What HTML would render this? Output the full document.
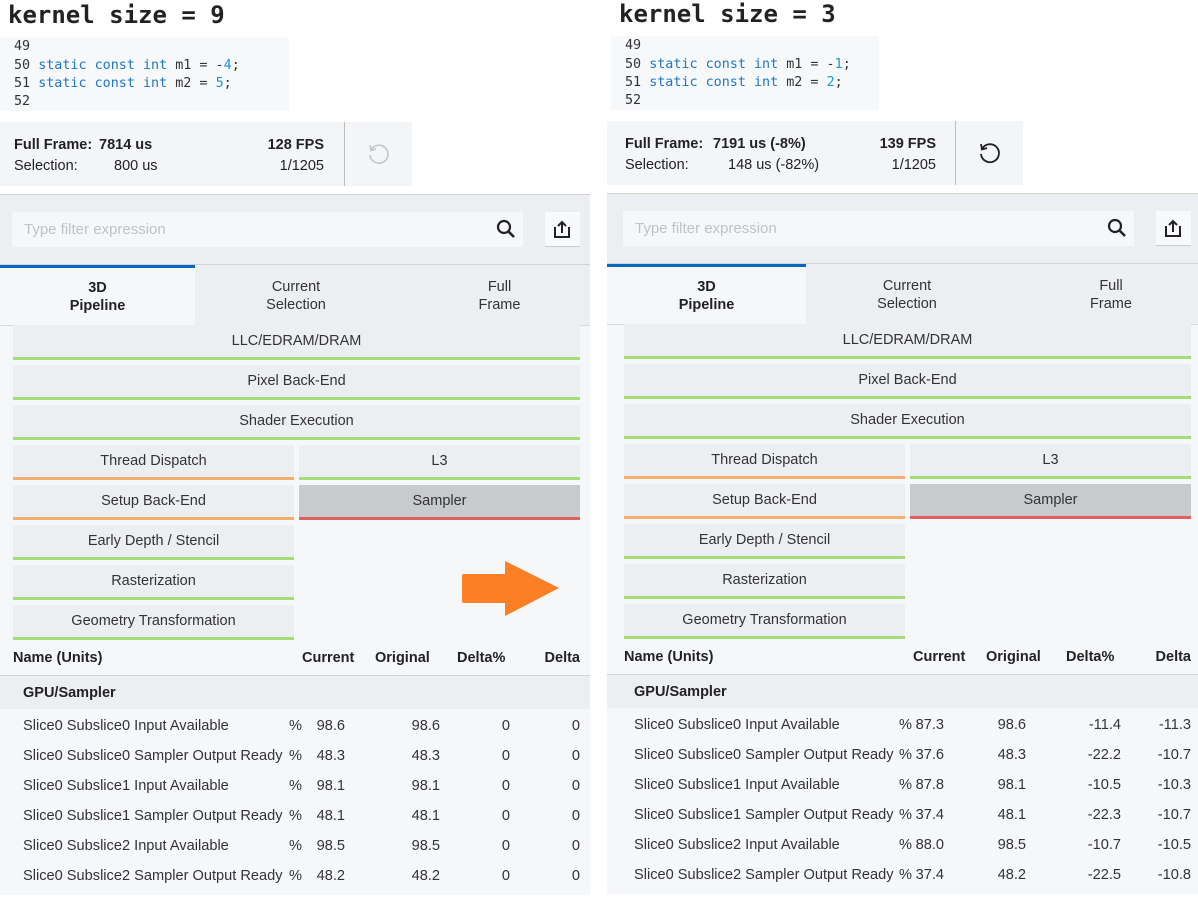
<!DOCTYPE html>
<html><head><meta charset="utf-8"><style>
*{margin:0;padding:0;box-sizing:border-box}
body{width:1198px;height:897px;background:#fff;position:relative;overflow:hidden;font-family:"Liberation Sans",sans-serif;color:#222}
.p{position:absolute;top:0;width:595px;height:897px}
.a{position:absolute;white-space:nowrap}
.title{left:8px;top:1px;font:bold 24px "DejaVu Sans Mono",monospace;color:#222}
.code{left:0;top:37px;width:289px;height:74px;background:#f6f8fa}
.cl{left:14px;font:13.4px "DejaVu Sans Mono",monospace;color:#333;line-height:18px}
.k{color:#1f77c4}.n{color:#1a9ad6}
.stats{left:0;top:122px;width:412px;height:64px;background:#f4f5f7}
.sep{left:344px;top:122px;width:1px;height:64px;background:#bbb}
.st{font-size:14.5px;line-height:16px}
.panel{left:0;top:194px;width:590px;height:701px;background:#eceef1;border-top:1px solid #cfd1d4}
.filter{left:12px;top:212px;width:511px;height:35px;background:#f6f7f9}
.ph{left:12px;top:9px;font-size:15px;color:#c0c2c6}
.exp{left:545px;top:212px;width:35px;height:35px;background:#f8f9fb;border-bottom:1px solid #ccc}
.tabline{left:0;top:264px;width:590px;height:1px;background:#cfd1d4}
.tab{top:265px;height:60px;text-align:center;font-size:14.5px;line-height:18px;padding-top:13px;color:#333}
.content{left:0;top:325px;width:590px;height:570px;background:#f6f7f9;border-top:1px solid #d6d8db}
.btn{height:35px;background:#eceef2;text-align:center;font-size:14.5px;line-height:33px;color:#333}
.g{border-bottom:3px solid #a7dd79}.o{border-bottom:3px solid #f0ae6f}.r{border-bottom:3px solid #e05f5f;background:#c8cacd}
.hd{top:650px;font-weight:bold;font-size:14.5px;color:#222}
.grp{left:0;top:675px;width:590px;height:34px;background:#eceef1;border-top:1px solid #d0d2d5}
.col{top:711px;line-height:30px;white-space:pre;font-size:14.6px;color:#333}
.rt{text-align:right}
</style></head><body>

<!-- LEFT -->
<div class="p" style="left:0">
<div class="a title">kernel size = 9</div>
<div class="a code"></div>
<div class="a cl" style="top:38px">49</div>
<div class="a cl" style="top:57px">50 <span class="k">static const int</span> m1 = -<span class="n">4</span>;</div>
<div class="a cl" style="top:75px">51 <span class="k">static const int</span> m2 = <span class="n">5</span>;</div>
<div class="a cl" style="top:93px">52</div>
<div class="a stats"></div><div class="a sep"></div>
<div class="a st" style="left:14px;top:137px;font-weight:bold">Full Frame:</div>
<div class="a st" style="left:99px;top:137px;font-weight:bold">7814 us</div>
<div class="a st rt" style="left:224px;width:100px;top:137px;font-weight:bold">128 FPS</div>
<div class="a st" style="left:14px;top:158px">Selection:</div>
<div class="a st" style="left:114px;top:158px">800 us</div>
<div class="a st rt" style="left:224px;width:100px;top:158px">1/1205</div>
<svg class="a" style="left:366px;top:141px" width="26" height="26" viewBox="0 0 26 26"><path d="M5 9 A9 9 0 1 1 4 14" fill="none" stroke="#c4c6c9" stroke-width="1.6"/><path d="M4 4 L5 9.5 L10 8" fill="none" stroke="#c4c6c9" stroke-width="1.6"/></svg>
<div class="a panel"></div>
<div class="a filter"><div class="a ph">Type filter expression</div></div>
<svg class="a" style="left:496px;top:219px" width="20" height="20"><circle cx="8" cy="8" r="6" fill="none" stroke="#222" stroke-width="2.2"/><path d="M12.5 12.5 L18 18" stroke="#222" stroke-width="2.6"/></svg>
<div class="a exp"></div>
<svg class="a" style="left:551px;top:218px" width="22" height="22"><path d="M4 9 V19 H18 V9" fill="none" stroke="#222" stroke-width="2"/><path d="M11 15 V4 M7 8 L11 4 L15 8" fill="none" stroke="#222" stroke-width="2"/></svg>
<div class="a tabline"></div>
<div class="a content"></div>
<div class="a tab" style="left:0;width:195px;background:#f6f7f9;border-top:3px solid #0b66c2;padding-top:11px;color:#222;font-weight:bold">3D<br>Pipeline</div>
<div class="a tab" style="left:195px;width:202px;background:#eceef2">Current<br>Selection</div>
<div class="a tab" style="left:397px;width:193px;background:#eceef2;padding-left:12px">Full<br>Frame</div>
<div class="a btn g" style="left:13px;top:325px;width:567px">LLC/EDRAM/DRAM</div>
<div class="a btn g" style="left:13px;top:365px;width:567px">Pixel Back-End</div>
<div class="a btn g" style="left:13px;top:405px;width:567px">Shader Execution</div>
<div class="a btn o" style="left:13px;top:445px;width:281px">Thread Dispatch</div>
<div class="a btn g" style="left:299px;top:445px;width:281px">L3</div>
<div class="a btn o" style="left:13px;top:485px;width:281px">Setup Back-End</div>
<div class="a btn r" style="left:299px;top:485px;width:281px">Sampler</div>
<div class="a btn g" style="left:13px;top:525px;width:281px">Early Depth / Stencil</div>
<div class="a btn g" style="left:13px;top:565px;width:281px">Rasterization</div>
<div class="a btn g" style="left:13px;top:605px;width:281px">Geometry Transformation</div>
<div class="a hd" style="left:13px">Name (Units)</div>
<div class="a hd" style="left:302px">Current</div>
<div class="a hd" style="left:375px">Original</div>
<div class="a hd" style="left:457px">Delta%</div>
<div class="a hd rt" style="left:500px;width:80px">Delta</div>
<div class="a grp"></div>
<div class="a hd" style="left:23px;top:685px">GPU/Sampler</div>
<div class="a col" style="left:23px">Slice0 Subslice0 Input Available
Slice0 Subslice0 Sampler Output Ready
Slice0 Subslice1 Input Available
Slice0 Subslice1 Sampler Output Ready
Slice0 Subslice2 Input Available
Slice0 Subslice2 Sampler Output Ready</div>
<div class="a col" style="left:289px">%
%
%
%
%
%</div>
<div class="a col rt" style="left:295px;width:50px">98.6
48.3
98.1
48.1
98.5
48.2</div>
<div class="a col rt" style="left:390px;width:50px">98.6
48.3
98.1
48.1
98.5
48.2</div>
<div class="a col rt" style="left:460px;width:50px">0
0
0
0
0
0</div>
<div class="a col rt" style="left:530px;width:50px">0
0
0
0
0
0</div>
</div>

<!-- arrow -->
<svg class="a" style="left:460px;top:558px" width="105" height="62"><path d="M4 16 H45 V3 L99 30 L45 58 V45 H4 Q2 45 2 43 V18 Q2 16 4 16 Z" fill="#fd7f23"/></svg>

<!-- RIGHT -->
<div class="p" style="left:611px;top:-1px">
<div class="a title">kernel size = 3</div>
<div class="a code" style="width:268px"></div>
<div class="a cl" style="top:38px">49</div>
<div class="a cl" style="top:57px">50 <span class="k">static const int</span> m1 = -<span class="n">1</span>;</div>
<div class="a cl" style="top:75px">51 <span class="k">static const int</span> m2 = <span class="n">2</span>;</div>
<div class="a cl" style="top:93px">52</div>
<div class="a stats" style="left:-4px;width:416px"></div><div class="a sep"></div>
<div class="a st" style="left:14px;top:137px;font-weight:bold">Full Frame:</div>
<div class="a st" style="left:102px;top:137px;font-weight:bold">7191 us (-8%)</div>
<div class="a st rt" style="left:225px;width:100px;top:137px;font-weight:bold">139 FPS</div>
<div class="a st" style="left:14px;top:158px">Selection:</div>
<div class="a st" style="left:117px;top:158px">148 us (-82%)</div>
<div class="a st rt" style="left:225px;width:100px;top:158px">1/1205</div>
<svg class="a" style="left:366px;top:141px" width="26" height="26" viewBox="0 0 26 26"><path d="M5 9 A9 9 0 1 1 4 14" fill="none" stroke="#222" stroke-width="1.8"/><path d="M4 4 L5 9.5 L10 8" fill="none" stroke="#222" stroke-width="1.8"/></svg>
<div class="a panel" style="left:-4px;width:595px"></div>
<div class="a filter"><div class="a ph">Type filter expression</div></div>
<svg class="a" style="left:496px;top:219px" width="20" height="20"><circle cx="8" cy="8" r="6" fill="none" stroke="#222" stroke-width="2.2"/><path d="M12.5 12.5 L18 18" stroke="#222" stroke-width="2.6"/></svg>
<div class="a exp"></div>
<svg class="a" style="left:551px;top:218px" width="22" height="22"><path d="M4 9 V19 H18 V9" fill="none" stroke="#222" stroke-width="2"/><path d="M11 15 V4 M7 8 L11 4 L15 8" fill="none" stroke="#222" stroke-width="2"/></svg>
<div class="a tabline" style="left:-4px;width:595px"></div>
<div class="a content" style="left:-4px;width:595px"></div>
<div class="a tab" style="left:-4px;width:199px;background:#f6f7f9;border-top:3px solid #0b66c2;padding-top:11px;color:#222;font-weight:bold">3D<br>Pipeline</div>
<div class="a tab" style="left:195px;width:202px;background:#eceef2">Current<br>Selection</div>
<div class="a tab" style="left:397px;width:194px;background:#eceef2;padding-left:12px">Full<br>Frame</div>
<div class="a btn g" style="left:13px;top:325px;width:567px">LLC/EDRAM/DRAM</div>
<div class="a btn g" style="left:13px;top:365px;width:567px">Pixel Back-End</div>
<div class="a btn g" style="left:13px;top:405px;width:567px">Shader Execution</div>
<div class="a btn o" style="left:13px;top:445px;width:281px">Thread Dispatch</div>
<div class="a btn g" style="left:299px;top:445px;width:281px">L3</div>
<div class="a btn o" style="left:13px;top:485px;width:281px">Setup Back-End</div>
<div class="a btn r" style="left:299px;top:485px;width:281px">Sampler</div>
<div class="a btn g" style="left:13px;top:525px;width:281px">Early Depth / Stencil</div>
<div class="a btn g" style="left:13px;top:565px;width:281px">Rasterization</div>
<div class="a btn g" style="left:13px;top:605px;width:281px">Geometry Transformation</div>
<div class="a hd" style="left:13px">Name (Units)</div>
<div class="a hd" style="left:302px">Current</div>
<div class="a hd" style="left:375px">Original</div>
<div class="a hd" style="left:455px">Delta%</div>
<div class="a hd rt" style="left:500px;width:80px">Delta</div>
<div class="a grp" style="left:-4px;width:595px"></div>
<div class="a hd" style="left:23px;top:685px">GPU/Sampler</div>
<div class="a col" style="left:23px">Slice0 Subslice0 Input Available
Slice0 Subslice0 Sampler Output Ready
Slice0 Subslice1 Input Available
Slice0 Subslice1 Sampler Output Ready
Slice0 Subslice2 Input Available
Slice0 Subslice2 Sampler Output Ready</div>
<div class="a col" style="left:288px">%
%
%
%
%
%</div>
<div class="a col rt" style="left:283px;width:50px">87.3
37.6
87.8
37.4
88.0
37.4</div>
<div class="a col rt" style="left:365px;width:50px">98.6
48.3
98.1
48.1
98.5
48.2</div>
<div class="a col rt" style="left:460px;width:50px">-11.4
-22.2
-10.5
-22.3
-10.7
-22.5</div>
<div class="a col rt" style="left:530px;width:50px">-11.3
-10.7
-10.3
-10.7
-10.5
-10.8</div>
</div>
</body></html>
